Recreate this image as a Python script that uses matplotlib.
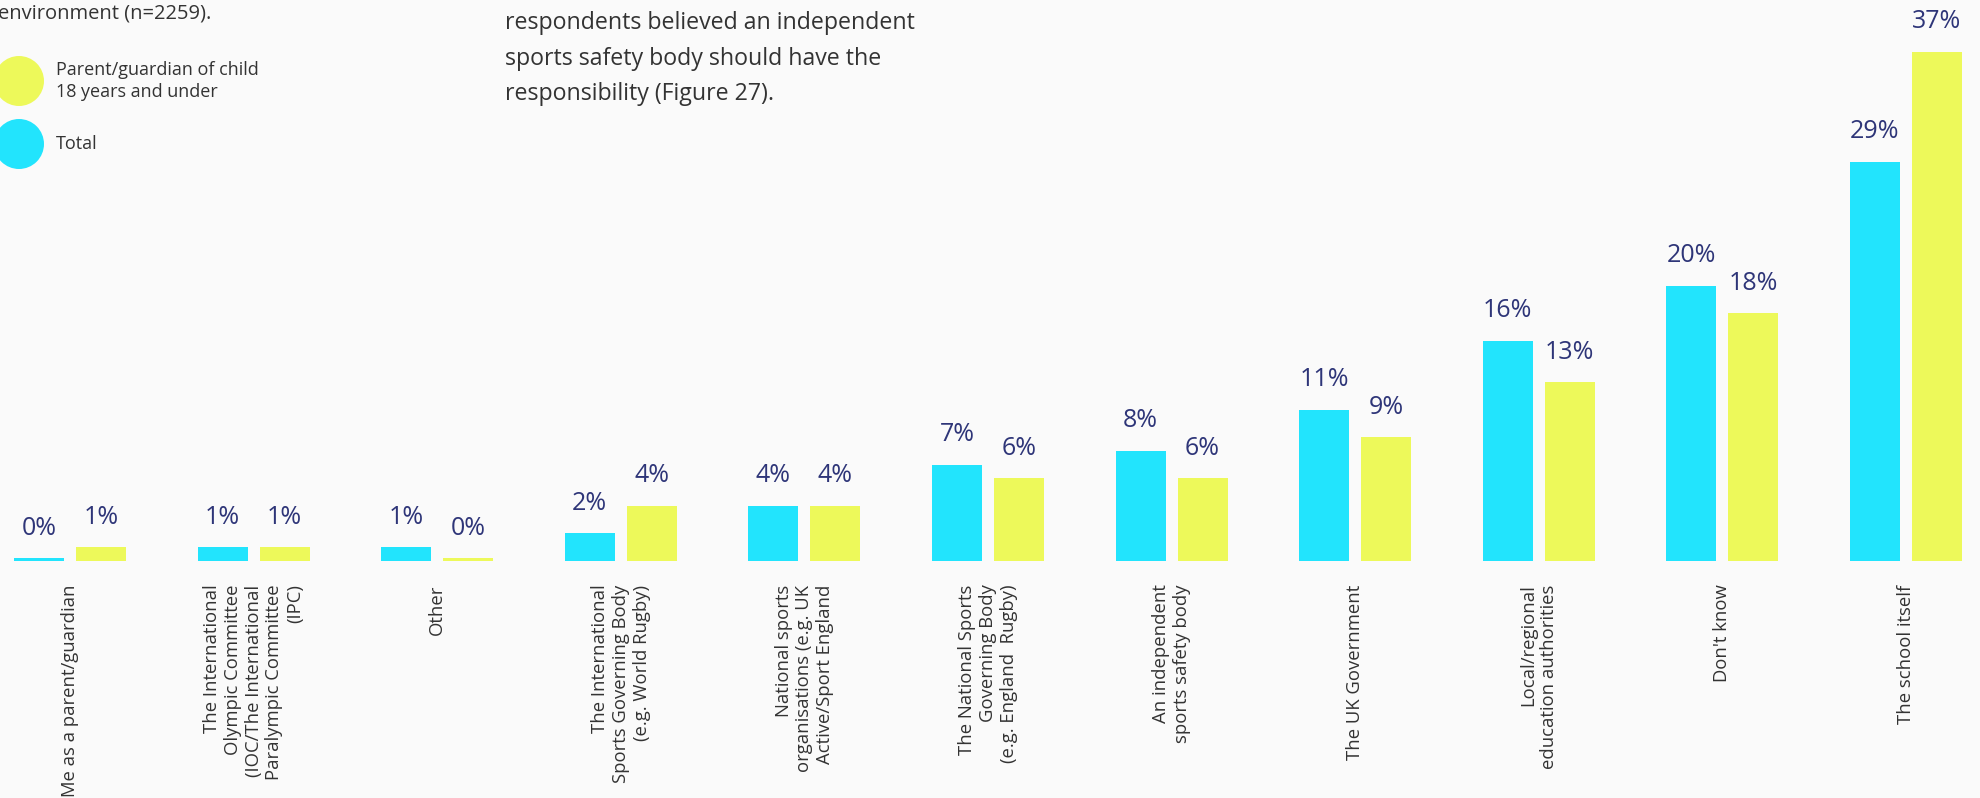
import matplotlib.pyplot as plt
from matplotlib.patches import Circle

# who should be responsible - answers, % of respondents
categories = [
    "Me as a parent/guardian",
    "The International\nOlympic Committee\n(IOC/The International\nParalympic Committee\n(IPC)",
    "Other",
    "The International\nSports Governing Body\n(e.g. World Rugby)",
    "National sports\norganisations (e.g. UK\nActive/Sport England",
    "The National Sports\nGoverning Body\n(e.g. England  Rugby)",
    "An independent\nsports safety body",
    "The UK Government",
    "Local/regional\neducation authorities",
    "Don't know",
    "The school itself",
]
total = [0.2, 1, 1, 2, 4, 7, 8, 11, 16, 20, 29]
parent = [1, 1, 0.2, 4, 4, 6, 6, 9, 13, 18, 37]

legend_labels = ["Parent/guardian of child\n18 years and under", "Total"]

blue = "#22e4fd"
yellow = "#edf95a"
navy = "#2e3578"
grey = "#333333"
bg = "#fafafa"

plt.rcParams["font.family"] = ["Open Sans", "DejaVu Sans"]

fig = plt.figure(figsize=(19.8, 7.98), dpi=100, facecolor=bg)
ax = fig.add_axes([0, 237 / 798, 1, 561 / 798])
ax.set_facecolor(bg)

x = list(range(len(categories)))
w = 0.272
off = 0.169

bars_t = ax.bar([i - off for i in x], total, width=w, color=blue)
bars_p = ax.bar([i + off for i in x], parent, width=w, color=yellow)

for bars, vals in [(bars_t, total), (bars_p, parent)]:
    for b, v in zip(bars, vals):
        ax.annotate(f"{v:.0f}%", (b.get_x() + b.get_width() / 2, v),
                    xytext=(0, 17), textcoords="offset points",
                    ha="center", va="baseline", fontsize=18, color=navy)

ax.set_xlim(-0.381, 10.403)
ax.set_ylim(0, 40.77)
ax.set_xticks(x)
ax.set_xticklabels(categories, rotation=90, ha="center", va="top",
                   multialignment="right", fontsize=13.3, color=grey,
                   linespacing=1.2)
ax.tick_params(axis="x", length=0, pad=17)
ax.set_yticks([])
for s in ax.spines.values():
    s.set_visible(False)

# legend circles top left
for cy, col, lab in [(81, yellow, legend_labels[0]), (144, blue, legend_labels[1])]:
    fig.add_artist(Circle((19 / 100, (798 - cy) / 100), 0.25,
                          transform=fig.dpi_scale_trans, color=col, lw=0))
    fig.text(56 / 1980, 1 - cy / 798, lab, fontsize=13, color=grey,
             va="center", ha="left", linespacing=1.25)

fig.text(-2 / 1980, 1 - 18 / 798, "environment (n=2259).", fontsize=14.5,
         color=grey, va="baseline", ha="left")
fig.text(505 / 1980, 1 - 100 / 798,
         "respondents believed an independent\nsports safety body should have the\nresponsibility (Figure 27).",
         fontsize=16.7, color=grey, va="baseline", ha="left", linespacing=1.63)

fig.savefig("out.png", dpi=100, facecolor=bg)
